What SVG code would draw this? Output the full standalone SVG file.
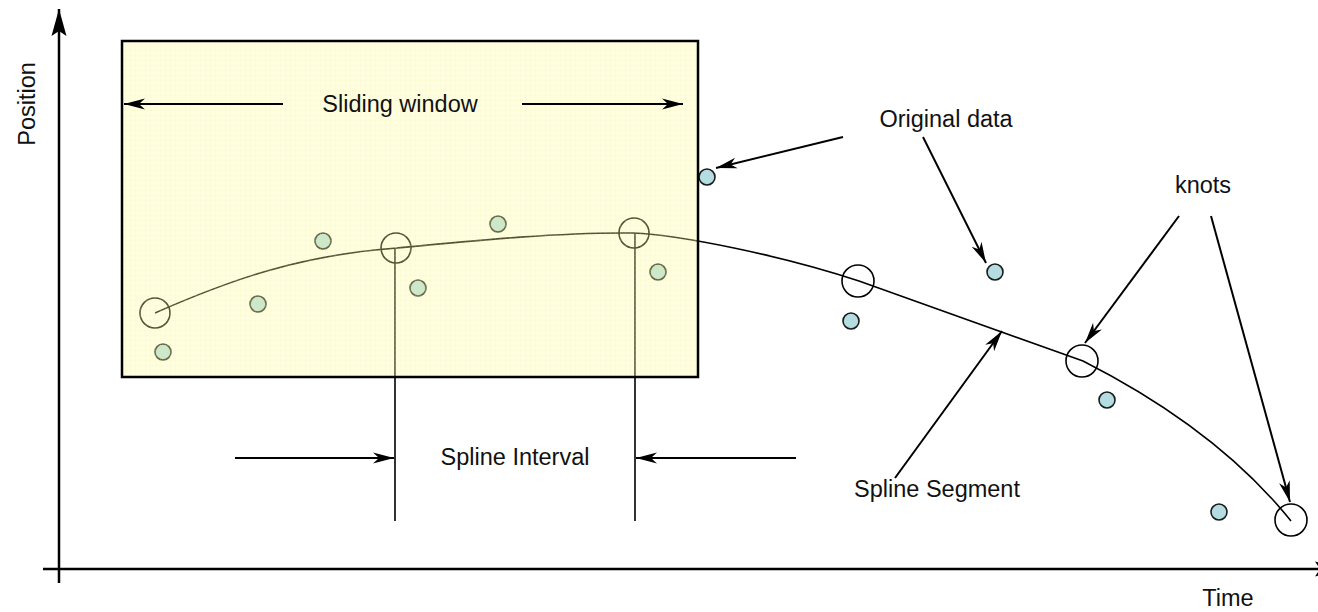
<svg xmlns="http://www.w3.org/2000/svg" width="1318" height="612" viewBox="0 0 1318 612">
  <style>
    .lbl { font-family: "Liberation Sans", Arial, Helvetica, sans-serif; font-size: 23.5px; fill: #111; }
    .axis { stroke: #000; stroke-width: 2.5; fill: none; }
    .ptr { stroke: #000; stroke-width: 2; fill: none; marker-end: url(#barb); }
    .curve { stroke: #000; stroke-width: 1.6; fill: none; }
    .knot { stroke: #000; stroke-width: 1.6; fill: none; }
    .datum { stroke: #1a1a1a; stroke-width: 1.6; fill: #b3dde0; }
    .guide { stroke: #000; stroke-width: 1.6; fill: none; }
  </style>
  <defs>
    <!-- notched arrowhead for pointer lines -->
    <marker id="barb" markerUnits="userSpaceOnUse" markerWidth="22" markerHeight="14"
            viewBox="0 0 22 14" refX="21" refY="7" orient="auto">
      <path d="M21,7 L0,1.5 L6,7 L0,12.5 Z" fill="#000"/>
    </marker>
    <!-- larger filled head for the axes -->
    <marker id="axishead" markerUnits="userSpaceOnUse" markerWidth="28" markerHeight="18"
            viewBox="0 0 28 18" refX="27" refY="9" orient="auto">
      <path d="M27,9 L0,1.5 L5,9 L0,16.5 Z" fill="#000"/>
    </marker>
    <!-- faint paper grid of the window -->
    <pattern id="grid" width="5" height="5" patternUnits="userSpaceOnUse">
      <rect width="5" height="5" fill="#ffffa0" fill-opacity="0.32"/>
      <path d="M0,0.5 H5 M0.5,0 V5" stroke="#e6e6a0" stroke-width="1" stroke-opacity="0.12"/>
    </pattern>
  </defs>

  <rect width="1318" height="612" fill="#fff"/>

  <!-- axes -->
  <g id="axes">
    <line class="axis" x1="59" y1="583" x2="59" y2="9" marker-end="url(#axishead)"/>
    <line class="axis" x1="43" y1="569" x2="1342" y2="569" marker-end="url(#axishead)"/>
    <text class="lbl" transform="translate(35,104) rotate(-90)" text-anchor="middle">Position</text>
    <text class="lbl" x="1228" y="606" text-anchor="middle">Time</text>
  </g>

  <!-- fitted spline -->
  <g id="spline">
    <path class="curve" d="M155,313 C230,280 300,255 397,248 C470,241 560,232 633,233 C680,235 780,255 859,281 L1083,361 C1150,395 1230,445 1291,521"/>
  </g>

  <!-- spline knots -->
  <g id="knots">
    <circle class="knot" cx="155" cy="313" r="15"/>
    <circle class="knot" cx="396" cy="248" r="15"/>
    <circle class="knot" cx="634" cy="233" r="15"/>
    <circle class="knot" cx="858" cy="281" r="16"/>
    <circle class="knot" cx="1082" cy="361" r="16"/>
    <circle class="knot" cx="1291" cy="520" r="16"/>
  </g>

  <!-- original data samples -->
  <g id="data">
    <circle class="datum" cx="163" cy="352" r="8"/>
    <circle class="datum" cx="258" cy="304" r="8"/>
    <circle class="datum" cx="323" cy="241" r="8"/>
    <circle class="datum" cx="418" cy="288" r="8"/>
    <circle class="datum" cx="498" cy="224" r="8"/>
    <circle class="datum" cx="658" cy="272" r="8"/>
    <circle class="datum" cx="707" cy="177" r="8"/>
    <circle class="datum" cx="851" cy="321" r="8"/>
    <circle class="datum" cx="995" cy="272" r="8"/>
    <circle class="datum" cx="1107" cy="400" r="8"/>
    <circle class="datum" cx="1219" cy="512" r="8"/>
  </g>

  <!-- interval guides dropped from the knots -->
  <g id="interval-guides">
    <line class="guide" x1="395" y1="248" x2="395" y2="521"/>
    <line class="guide" x1="635" y1="233" x2="635" y2="521"/>
  </g>

  <!-- sliding window (translucent overlay) -->
  <g id="sliding-window">
    <rect x="122" y="41" width="576" height="336" fill="url(#grid)" stroke="#000" stroke-width="2.5"/>
    <text class="lbl" x="400" y="112" text-anchor="middle">Sliding window</text>
  </g>

  <g id="label-interval">
    <text class="lbl" x="515" y="465" text-anchor="middle">Spline Interval</text>
  </g>
  <g id="label-original">
    <text class="lbl" x="946" y="127" text-anchor="middle">Original data</text>
  </g>
  <g id="label-knots">
    <text class="lbl" x="1203" y="193" text-anchor="middle">knots</text>
  </g>
  <g id="label-segment">
    <text class="lbl" x="937" y="497" text-anchor="middle">Spline Segment</text>
  </g>

  <!-- pointer arrows -->
  <g id="connectors">
    <line class="ptr" x1="283" y1="104" x2="124" y2="104"/>
    <line class="ptr" x1="522" y1="104" x2="683" y2="104"/>
    <line class="ptr" x1="235" y1="458" x2="394" y2="458"/>
    <line class="ptr" x1="796" y1="458" x2="636" y2="458"/>
    <line class="ptr" x1="843" y1="137" x2="716" y2="168"/>
    <line class="ptr" x1="923" y1="137" x2="986" y2="263"/>
    <line class="ptr" x1="1179" y1="216" x2="1085" y2="343"/>
    <line class="ptr" x1="1211" y1="216" x2="1290" y2="502"/>
    <line class="ptr" x1="895" y1="478" x2="1002" y2="331"/>
  </g>
</svg>
